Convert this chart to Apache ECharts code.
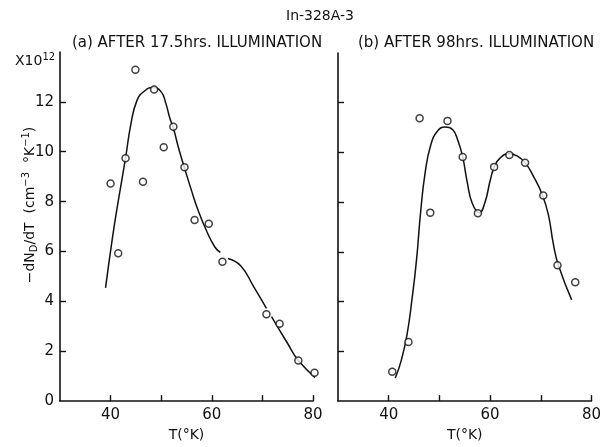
<!DOCTYPE html>
<html>
<head>
<meta charset="utf-8">
<script src="https://cdn.jsdelivr.net/npm/echarts@6/dist/echarts.min.js"></script>
<style>
  html, body { margin: 0; padding: 0; background: #ffffff; }
  #chart { width: 604px; height: 447px; }
</style>
</head>
<body>
<div id="chart"></div>
<script>
// Panel (a): after 17.5 hrs illumination — measured points
const tempA = [40.0, 41.5, 42.95, 44.9, 46.4, 48.6, 50.5, 52.4, 54.6, 56.6, 59.4, 62.1, 70.8, 73.4, 77.1, 80.3];
const rateA = [8.73, 5.93, 9.74, 13.29, 8.8, 12.5, 10.18, 11.0, 9.38, 7.26, 7.11, 5.59, 3.48, 3.10, 1.63, 1.14];
// Panel (a): hand-drawn fit curve (null marks a break in the pen line)
const curveTempA = [39.0, 40.4, 41.6, 42.95, 44.0, 45.2, 46.6, 48.4, 50.0, 50.9, 51.7, 52.4, 53.5,
                    54.6, 55.9, 57.2, 58.8, 60.6, 61.7, null,
                    63.2, 65.7, 68.3, 70.8, null,
                    71.8, 74.9, 77.1, 81.1];
const curveRateA = [4.54, 6.6, 8.13, 9.74, 11.1, 12.05, 12.42, 12.58, 12.4, 11.95, 11.35, 10.95, 10.1,
                    9.35, 8.5, 7.7, 6.9, 6.18, 5.96, null,
                    5.72, 5.43, 4.58, 3.72, null,
                    3.39, 2.34, 1.63, 0.83];

// Panel (b): after 98 hrs illumination — measured points
const tempB = [40.7, 43.9, 46.1, 48.2, 51.6, 54.6, 57.6, 60.8, 63.8, 66.9, 70.5, 73.3, 76.8];
const rateB = [1.18, 2.38, 11.38, 7.58, 11.27, 9.82, 7.56, 9.42, 9.90, 9.59, 8.27, 5.46, 4.78];
// Panel (b): hand-drawn fit curve
const curveTempB = [41.3, 42.5, 43.6, 44.6, 45.5, 46.3, 47.2, 48.3, 49.6, 51.1, 52.6, 53.7, 54.6,
                    55.5, 56.5, 57.9, 59.0, 60.0, 60.8, 62.0, 63.8, 65.4, 66.9, 68.5, 70.3,
                    71.5, 72.5, 73.5, 76.1];
const curveRateB = [0.93, 1.65, 2.65, 4.1, 5.7, 7.6, 9.2, 10.3, 10.85, 11.02, 10.92, 10.45, 9.82,
                    8.8, 7.95, 7.58, 8.0, 8.85, 9.4, 9.78, 9.95, 9.85, 9.59, 9.06, 8.3,
                    7.5, 6.3, 5.45, 4.07];

// Axis ticks and labels
const xTickValues = [40, 50, 60, 70, 80];
const xLabelValues = [40, 60, 80];
const yTickValues = [2, 4, 6, 8, 10, 12];
const yLabelValues = [0, 2, 4, 6, 8, 10, 12];

const FONT = 'DejaVu Sans';
const INK = '#111111';

function pairs(xs, ys) { return xs.map((x, i) => [x, ys[i]]); }

// Split a curve at null entries into separate pen strokes
function strokes(xs, ys) {
  const out = [];
  let cur = [];
  xs.forEach((x, i) => {
    if (x === null) { if (cur.length) out.push(cur); cur = []; }
    else cur.push([x, ys[i]]);
  });
  if (cur.length) out.push(cur);
  return out;
}

function xAxisFor(idx) {
  return {
    type: 'value', gridIndex: idx, min: 30, max: 80, interval: 10,
    name: 'T(°K)', nameLocation: 'middle', nameGap: 26,
    nameTextStyle: { fontFamily: FONT, fontSize: 14, color: INK },
    axisLine: { lineStyle: { color: INK, width: 1.6 } },
    axisTick: { inside: true, length: 6, lineStyle: { color: INK, width: 1.4 }, customValues: xTickValues },
    axisLabel: { fontFamily: FONT, fontSize: 15, color: INK, margin: 7, customValues: xLabelValues },
    splitLine: { show: false }
  };
}

function yAxisFor(idx, showLabels) {
  return {
    type: 'value', gridIndex: idx, min: 0, max: 14, interval: 2,
    axisLine: { show: true, lineStyle: { color: INK, width: 1.6 } },
    axisTick: { show: true, inside: true, length: 6, lineStyle: { color: INK, width: 1.4 }, customValues: yTickValues },
    axisLabel: { show: showLabels, fontFamily: FONT, fontSize: 15, color: INK, margin: 6, customValues: yLabelValues },
    splitLine: { show: false }
  };
}

const series = [];
[[curveTempA, curveRateA, 0], [curveTempB, curveRateB, 1]].forEach(([xs, ys, idx]) => {
  strokes(xs, ys).forEach(seg => {
    series.push({
      type: 'line', xAxisIndex: idx, yAxisIndex: idx, data: seg,
      smooth: 0.5, showSymbol: false, clip: false, silent: true,
      lineStyle: { color: INK, width: 1.5 }, z: 2
    });
  });
});
[[tempA, rateA, 0], [tempB, rateB, 1]].forEach(([xs, ys, idx]) => {
  series.push({
    type: 'scatter', xAxisIndex: idx, yAxisIndex: idx, data: pairs(xs, ys),
    symbol: 'circle', symbolSize: 7, clip: false,
    itemStyle: { color: '#ffffff', borderColor: INK, borderWidth: 1.5 }, z: 3
  });
});

const chart = echarts.init(document.getElementById('chart'), null, { renderer: 'canvas' });
chart.setOption({
  backgroundColor: '#ffffff',
  animation: false,
  grid: [
    { left: 60, top: 52, width: 253, height: 354 },
    { left: 338, top: 53, width: 254, height: 354 }
  ],
  xAxis: [xAxisFor(0), xAxisFor(1)],
  yAxis: [yAxisFor(0, true), yAxisFor(1, false)],
  series: series,
  graphic: [
    { type: 'text', x: 320, y: 16, style: { text: 'In-328A-3', font: '14px ' + FONT, fill: INK, align: 'center', verticalAlign: 'middle' } },
    { type: 'text', x: 197, y: 43, style: { text: '(a) AFTER 17.5hrs. ILLUMINATION', font: '15px ' + FONT, fill: INK, align: 'center', verticalAlign: 'middle' } },
    { type: 'text', x: 476, y: 43, style: { text: '(b) AFTER 98hrs. ILLUMINATION', font: '15px ' + FONT, fill: INK, align: 'center', verticalAlign: 'middle' } },
    {
      type: 'text', x: 15, y: 61,
      style: {
        text: '{a|X10}{p|12}', align: 'left', verticalAlign: 'middle', fill: INK,
        rich: {
          a: { fontFamily: FONT, fontSize: 14, color: INK, lineHeight: 18, verticalAlign: 'middle' },
          p: { fontFamily: FONT, fontSize: 10, color: INK, lineHeight: 18, verticalAlign: 'top' }
        }
      }
    },
    {
      type: 'text', x: 30, y: 205, rotation: Math.PI / 2,
      style: {
        text: '{a|−dN}{s|D}{a|/dT  (cm}{p|−3}{a|  °K}{p|−1}{a|)}',
        align: 'center', verticalAlign: 'middle', fill: INK,
        rich: {
          a: { fontFamily: FONT, fontSize: 14, color: INK, lineHeight: 18, verticalAlign: 'middle' },
          s: { fontFamily: FONT, fontSize: 10, color: INK, lineHeight: 18, verticalAlign: 'bottom', padding: [8, 0, 0, 0] },
          p: { fontFamily: FONT, fontSize: 10, color: INK, lineHeight: 18, verticalAlign: 'top' }
        }
      }
    }
  ]
});
</script>
</body>
</html>
